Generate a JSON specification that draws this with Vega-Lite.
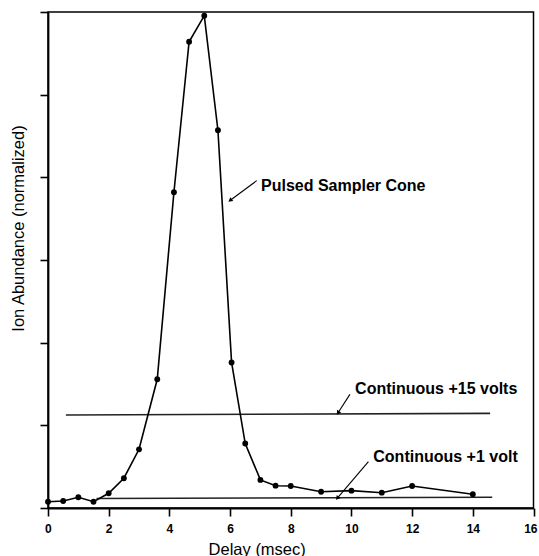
{
  "$schema": "https://vega.github.io/schema/vega-lite/v6.json",
  "width": 485.5,
  "height": 496,
  "autosize": {"type": "none"},
  "padding": {"left": 48, "top": 12, "right": 5.5, "bottom": 48},
  "background": "white",
  "config": {
    "font": "Liberation Sans",
    "view": {"stroke": "black", "strokeWidth": 1.5},
    "axis": {
      "domainColor": "black", "domainWidth": 1.8,
      "tickColor": "black", "tickWidth": 1.6, "tickSize": 8,
      "grid": false,
      "labelFont": "Liberation Sans", "labelFontWeight": "bold", "labelFontSize": 12, "labelColor": "black",
      "titleFont": "Liberation Sans", "titleFontWeight": "normal", "titleFontSize": 16.5, "titleColor": "black"
    }
  },
  "datasets": {
    "pulsed": [
      {"delay": 0, "abundance": 0.076},
      {"delay": 0.5, "abundance": 0.085},
      {"delay": 1, "abundance": 0.13},
      {"delay": 1.5, "abundance": 0.076},
      {"delay": 2, "abundance": 0.178},
      {"delay": 2.5, "abundance": 0.36},
      {"delay": 3, "abundance": 0.71},
      {"delay": 3.6, "abundance": 1.557},
      {"delay": 4.15, "abundance": 3.82},
      {"delay": 4.65, "abundance": 5.64},
      {"delay": 5.15, "abundance": 5.955},
      {"delay": 5.6, "abundance": 4.57},
      {"delay": 6.05, "abundance": 1.76},
      {"delay": 6.5, "abundance": 0.78},
      {"delay": 7, "abundance": 0.34},
      {"delay": 7.5, "abundance": 0.27},
      {"delay": 8, "abundance": 0.266},
      {"delay": 9, "abundance": 0.197},
      {"delay": 10, "abundance": 0.21},
      {"delay": 11, "abundance": 0.185},
      {"delay": 12, "abundance": 0.266},
      {"delay": 14, "abundance": 0.166}
    ],
    "continuous": [
      {"series": "Continuous +15 volts", "delay": 0.59, "abundance": 1.125},
      {"series": "Continuous +15 volts", "delay": 14.57, "abundance": 1.145},
      {"series": "Continuous +1 volt", "delay": 1.6, "abundance": 0.115},
      {"series": "Continuous +1 volt", "delay": 14.64, "abundance": 0.13}
    ],
    "labels": [
      {"text": "Pulsed Sampler Cone", "delay": 7.02, "abundance": 3.895},
      {"text": "Continuous +15 volts", "delay": 10.12, "abundance": 1.443},
      {"text": "Continuous +1 volt", "delay": 10.72, "abundance": 0.613}
    ],
    "arrows": [
      {"label": "Pulsed Sampler Cone", "x1": 6.88, "y1": 3.96, "x2": 6.02, "y2": 3.726},
      {"label": "Continuous +15 volts", "x1": 9.95, "y1": 1.375, "x2": 9.57, "y2": 1.158},
      {"label": "Continuous +1 volt", "x1": 10.56, "y1": 0.56, "x2": 9.55, "y2": 0.125}
    ]
  },
  "layer": [
    {
      "data": {"name": "continuous"},
      "mark": {"type": "line", "color": "#222", "strokeWidth": 1.6},
      "encoding": {
        "x": {"field": "delay", "type": "quantitative",
          "scale": {"domain": [0, 16], "nice": false},
          "axis": {"values": [0, 2, 4, 6, 8, 10, 12, 14, 16], "title": "Delay (msec)", "labelPadding": 7,
            "labelFlush": true, "labelFlushOffset": 3.5, "titleX": 208.7, "titleY": 46, "titleAlign": "center", "titleBaseline": "alphabetic"}},
        "y": {"field": "abundance", "type": "quantitative",
          "scale": {"domain": [0, 6], "nice": false},
          "axis": {"values": [0, 1, 2, 3, 4, 5, 6], "labels": false, "title": "Ion Abundance (normalized)",
            "titleX": -24.7, "titleY": 216, "titleAlign": "center", "titleBaseline": "alphabetic", "titleAngle": -90}},
        "detail": {"field": "series"}
      }
    },
    {
      "data": {"name": "pulsed"},
      "mark": {"type": "line", "color": "black", "strokeWidth": 1.6},
      "encoding": {
        "x": {"field": "delay", "type": "quantitative"},
        "y": {"field": "abundance", "type": "quantitative"}
      }
    },
    {
      "data": {"name": "pulsed"},
      "mark": {"type": "point", "filled": true, "color": "black", "size": 34, "opacity": 1},
      "encoding": {
        "x": {"field": "delay", "type": "quantitative"},
        "y": {"field": "abundance", "type": "quantitative"}
      }
    },
    {
      "data": {"name": "arrows"},
      "mark": {"type": "rule", "color": "black", "strokeWidth": 1.1},
      "encoding": {
        "x": {"field": "x1", "type": "quantitative"},
        "y": {"field": "y1", "type": "quantitative"},
        "x2": {"field": "x2"},
        "y2": {"field": "y2"}
      }
    },
    {
      "data": {"name": "arrows"},
      "transform": [{"filter": "datum.label === 'Pulsed Sampler Cone'"}],
      "mark": {"type": "point", "shape": "triangle", "filled": true, "color": "black", "size": 24, "angle": 233, "opacity": 1},
      "encoding": {
        "x": {"field": "x2", "type": "quantitative"},
        "y": {"field": "y2", "type": "quantitative"}
      }
    },
    {
      "data": {"name": "arrows"},
      "transform": [{"filter": "datum.label === 'Continuous +15 volts'"}],
      "mark": {"type": "point", "shape": "triangle", "filled": true, "color": "black", "size": 24, "angle": 213, "opacity": 1},
      "encoding": {
        "x": {"field": "x2", "type": "quantitative"},
        "y": {"field": "y2", "type": "quantitative"}
      }
    },
    {
      "data": {"name": "arrows"},
      "transform": [{"filter": "datum.label === 'Continuous +1 volt'"}],
      "mark": {"type": "point", "shape": "triangle", "filled": true, "color": "black", "size": 24, "angle": 220, "opacity": 1},
      "encoding": {
        "x": {"field": "x2", "type": "quantitative"},
        "y": {"field": "y2", "type": "quantitative"}
      }
    },
    {
      "data": {"name": "labels"},
      "mark": {"type": "text", "align": "left", "baseline": "middle", "font": "Liberation Sans", "fontWeight": "bold", "fontSize": 16, "color": "black"},
      "encoding": {
        "x": {"field": "delay", "type": "quantitative"},
        "y": {"field": "abundance", "type": "quantitative"},
        "text": {"field": "text"}
      }
    }
  ]
}
